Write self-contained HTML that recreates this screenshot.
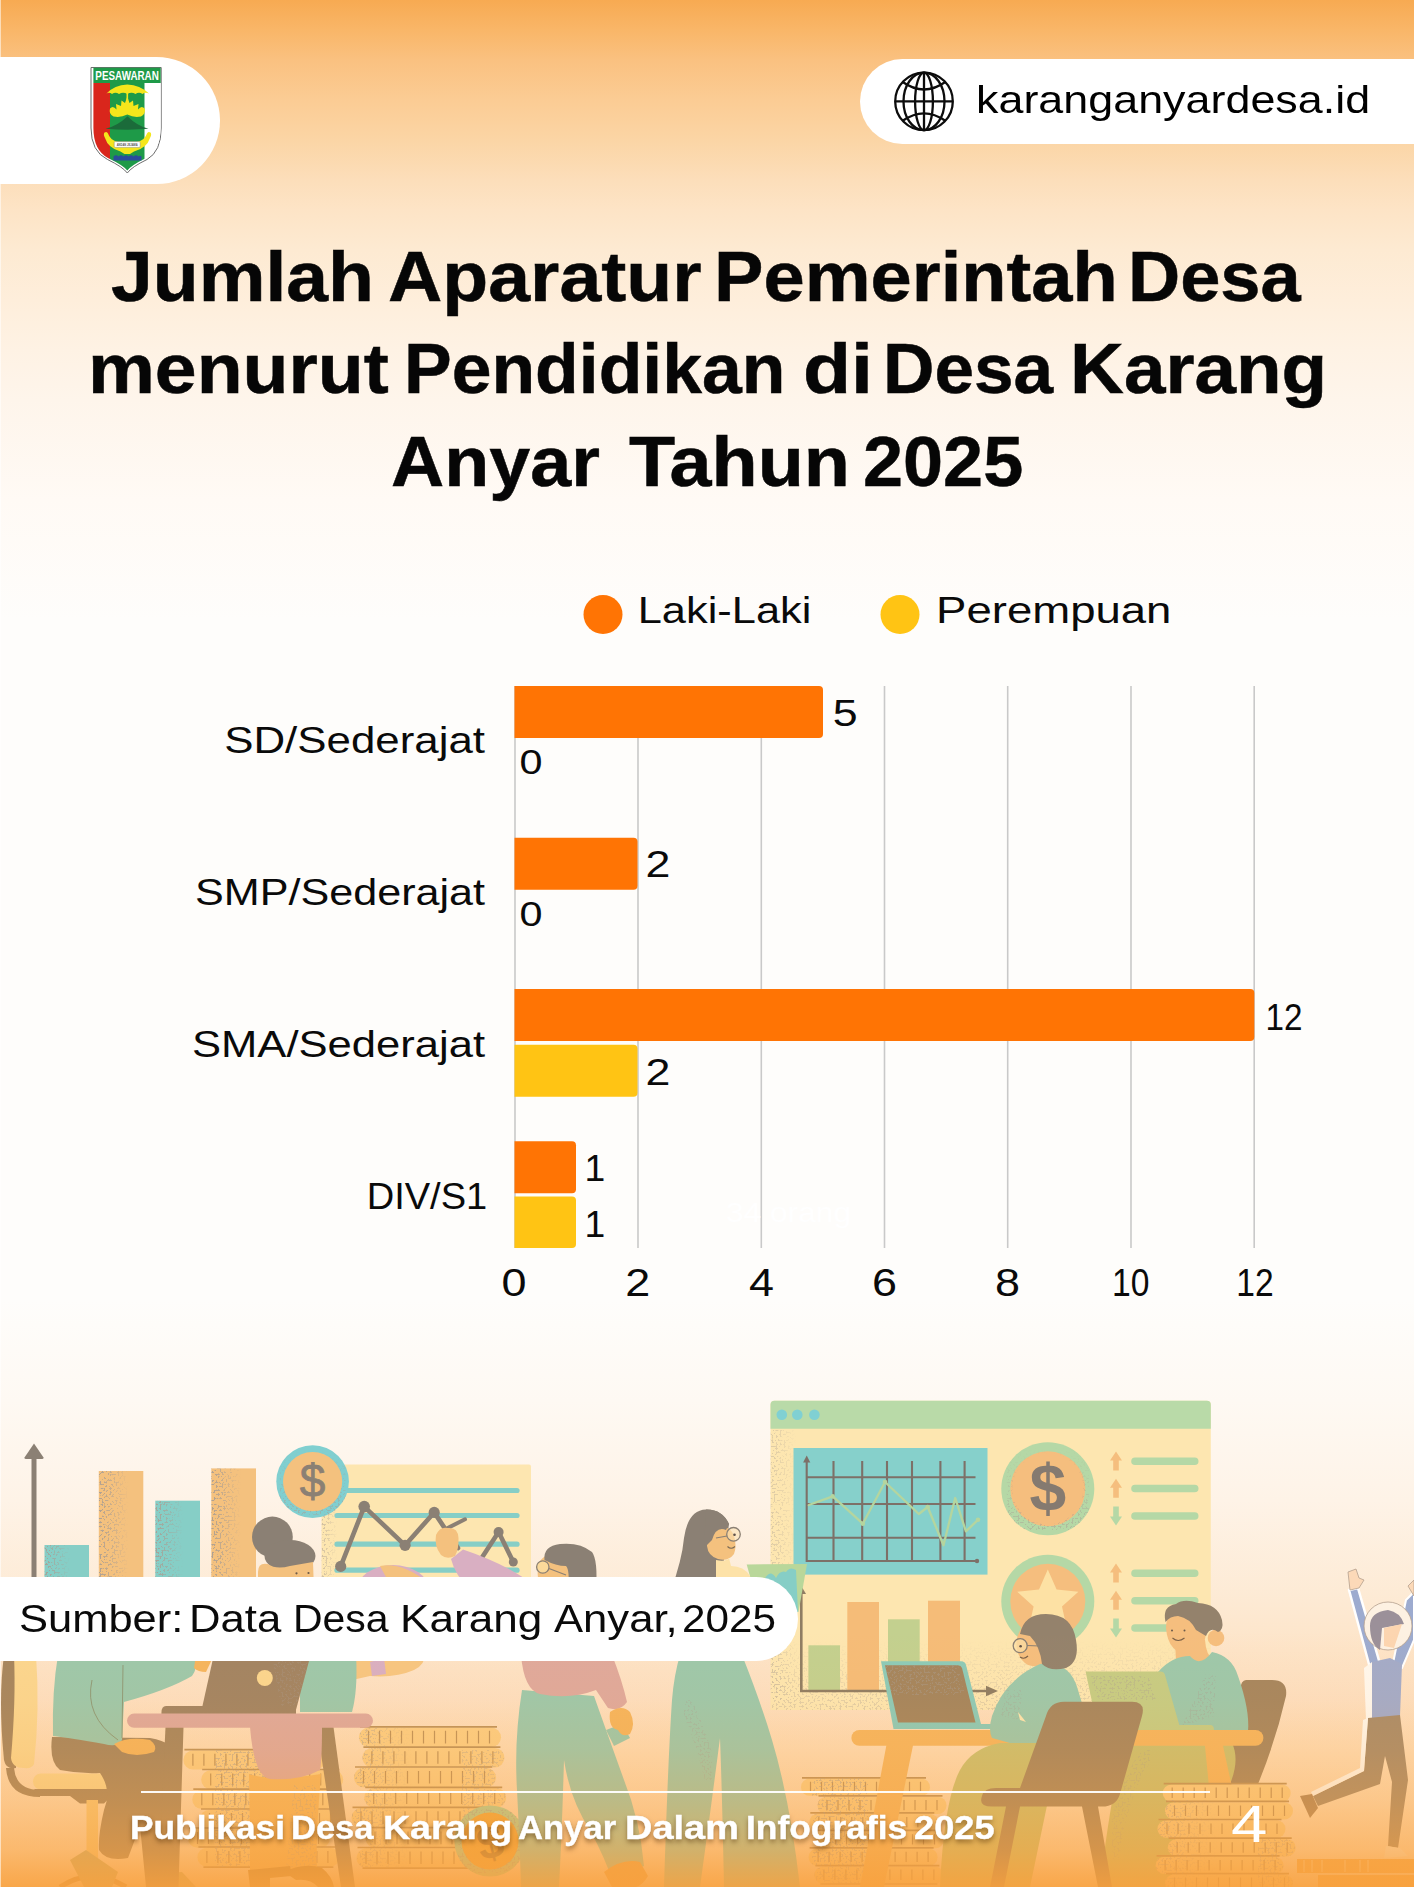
<!DOCTYPE html>
<html lang="id">
<head>
<meta charset="utf-8">
<title>Jumlah Aparatur Pemerintah Desa menurut Pendidikan di Desa Karang Anyar Tahun 2025</title>
<style>
html,body{margin:0;padding:0;}
body{width:1414px;height:1887px;position:relative;overflow:hidden;font-family:"Liberation Sans",sans-serif;color:#000;
background:linear-gradient(180deg,#f7aa52 0px,#f9b668 30px,#fac180 60px,#fbcc94 100px,#fbd5a5 140px,#fcdeba 180px,#fde4c6 210px,#fdead2 250px,#feeedb 300px,#fef2e4 350px,#fef5eb 400px,#fffaf5 500px,#fefdfb 620px,#fefdfb 1300px,#fef9f3 1400px,#fef3e7 1500px,#fdead4 1600px,#fde4c8 1650px,#fddfc0 1700px,#fedbb2 1750px,#fed9ae 1887px);}
.abs{position:absolute;}
.pill-l{left:-60px;top:56.5px;width:280.2px;height:127.3px;border-radius:63.7px;background:#fff;}
.pill-r{left:860px;top:59.2px;width:640px;height:84.8px;border-radius:42.4px;background:#fff;}
.txt{position:absolute;white-space:pre;transform-origin:0 0;line-height:1;}
.title{font-weight:700;font-size:70px;color:#060606;-webkit-text-stroke:.5px #060606;}
#page{position:absolute;left:0;top:0;width:1414px;height:1887px;}
</style>
</head>
<body>
<!-- ILLUSTRATION -->
<svg id="illu" class="abs" style="left:0;top:1380px" width="1414" height="507" viewBox="0 1380 1414 507">
<defs>
 <filter id="spk" x="0" y="0" width="100%" height="100%">
  <feTurbulence type="fractalNoise" baseFrequency="0.5" numOctaves="2" seed="7" result="n"/>
  <feColorMatrix in="n" type="matrix" values="0 0 0 0 0.40  0 0 0 0 0.34  0 0 0 0 0.29  0 0 0 -17 7.600" result="d"/>
  <feGaussianBlur in="d" stdDeviation="0.35" result="b"/>
  <feComposite in="b" in2="SourceAlpha" operator="in"/>
 </filter>
 <linearGradient id="fadeR" x1="0" y1="0" x2="1" y2="0"><stop offset="0" stop-color="#fff" stop-opacity="1"/><stop offset="0.45" stop-color="#fff" stop-opacity=".55"/><stop offset="1" stop-color="#fff" stop-opacity="0"/></linearGradient>
 <linearGradient id="fadeD" x1="0" y1="0" x2="0" y2="1"><stop offset="0" stop-color="#fff" stop-opacity="0"/><stop offset="1" stop-color="#fff" stop-opacity="1"/></linearGradient>
 <mask id="mR" maskContentUnits="objectBoundingBox"><rect width="1" height="1" fill="url(#fadeR)"/></mask>
 <mask id="mD" maskContentUnits="objectBoundingBox"><rect width="1" height="1" fill="url(#fadeD)"/></mask>
</defs>

<!-- ============ LEFT: bar chart + arrow ============ -->
<g id="leftbars">
 <rect x="31.500" y="1455" width="5" height="125" fill="#8b8074"/>
 <path d="M34 1443.500L43.500 1457.500Q43.800 1459 42 1459H26Q24.200 1459 24.500 1457.500Z" fill="#8b8074"/>
 <rect x="44.500" y="1545" width="44.500" height="40" fill="#86cec6"/>
 <rect x="98.800" y="1471" width="44.500" height="110" fill="#f4c17e"/>
 <rect x="155.300" y="1500.700" width="44.700" height="80" fill="#86cec6"/>
 <rect x="211.300" y="1468.400" width="44.700" height="112" fill="#f4c17e"/>
 <g opacity=".95">
  <rect x="44.500" y="1545" width="26" height="40" filter="url(#spk)" mask="url(#mR)"/>
  <rect x="98.800" y="1471" width="30" height="110" filter="url(#spk)" mask="url(#mR)"/>
  <rect x="155.300" y="1500.700" width="28" height="80" filter="url(#spk)" mask="url(#mR)"/>
  <rect x="211.300" y="1468.400" width="30" height="112" filter="url(#spk)" mask="url(#mR)"/>
 </g>
</g>

<!-- ============ line-chart board ============ -->
<g id="board">
 <rect x="321.500" y="1464.600" width="209.500" height="120" rx="2" fill="#fde6b0"/>
 <rect x="321.500" y="1500" width="16" height="80" filter="url(#spk)" mask="url(#mR)" opacity=".55"/>
 <g stroke="#86cec6" stroke-width="5.200" stroke-linecap="round">
  <path d="M340 1490.500H517"/><path d="M337 1515.500H517"/><path d="M337 1544.200H517"/><path d="M337 1570.200H517"/>
 </g>
 <!-- pie blob -->
 <ellipse cx="393" cy="1590" rx="36" ry="25" fill="#d9afc2"/>
 <path d="M380 1566 Q402 1562 427 1582 L393 1590Z" fill="#f4c17e"/>
 <g stroke="#8b8074" stroke-width="4.600" stroke-linecap="round" stroke-linejoin="round" fill="none">
  <path d="M340.700 1566.400L364.200 1506.600L405.100 1545.300L434.200 1512.400L458 1548"/>
  <path d="M482 1557.500L498.600 1532L513.300 1562"/>
  <path d="M447.700 1528L465 1519.300" stroke-width="4"/>
 </g>
 <g fill="#8b8074">
  <circle cx="340.700" cy="1566.400" r="5.600"/><circle cx="364.200" cy="1506.600" r="5.800"/><circle cx="405.100" cy="1545.300" r="5.600"/><circle cx="434.200" cy="1512.400" r="5.600"/><circle cx="498.600" cy="1532" r="5"/><circle cx="513.300" cy="1562" r="4.500"/>
 </g>
 <!-- arm + hand pointing -->
 <path d="M451 1559 L463 1549.500 Q500 1562 524 1578 L524 1590 L470 1590 Q455 1575 451 1559Z" fill="#d9afc2"/>
 <path d="M436 1535 Q440 1526 448 1528 Q458 1527 458.500 1538 Q459 1549 455 1556 Q447 1560 441 1555 Q434 1546 436 1535Z" fill="#f4c17e"/>
 <!-- dollar coin -->
 <circle cx="312.600" cy="1481.600" r="36.300" fill="#80cfd0"/>
 <circle cx="312.600" cy="1481.600" r="29.600" fill="#f4c17e"/>
 <circle cx="312.600" cy="1481.600" r="33" fill="none" stroke-width="7" stroke="#000" filter="url(#spk)" mask="url(#mD)" opacity=".55"/>
 <text x="312.600" y="1497" text-anchor="middle" font-family="'Liberation Sans',sans-serif" font-size="46" fill="#8b8074" stroke="#8b8074" stroke-width=".8">$</text>
</g>

<!-- girl with bun (behind pill) -->
<g id="bun">
 <circle cx="272.400" cy="1537" r="20.400" fill="#8b8074"/>
 <ellipse cx="290" cy="1556" rx="25.500" ry="16" fill="#8b8074"/>
 <path d="M258 1572 Q258 1562 268 1564 Q276 1570 290 1566 L313 1562 L314 1590 L258 1590Z" fill="#f4c17e"/>
 <circle cx="296.500" cy="1573.300" r="1.100" fill="#6b5a4a"/><circle cx="308.500" cy="1573" r="1.100" fill="#6b5a4a"/>
</g>

<!-- man with glasses (head above pill) -->
<g id="man2head">
 <path d="M538 1578 Q536 1560 546 1556 L580 1556 L592 1590 L538 1590Z" fill="#f4c17e"/>
 <path d="M544.500 1560 Q543 1546 560 1544 Q580 1542 592 1552 Q598 1560 596 1590 L568 1590 Q570 1570 566 1566 Q556 1566 544.500 1560Z" fill="#8b8074"/>
 <circle cx="542.800" cy="1567" r="6.200" fill="#fbd99a" stroke="#8b8074" stroke-width="1.300"/>
 <path d="M549 1568.500L566 1575" stroke="#8b8074" stroke-width="1.300"/>
</g>
<!-- ============ browser panel ============ -->
<g id="browser">
 <path d="M770.500 1404.700a4 4 0 0 1 4-4H1206.800a4 4 0 0 1 4 4V1710H770.500Z" fill="#fde6b0"/>
 <path d="M770.500 1404.700a4 4 0 0 1 4-4H1206.800a4 4 0 0 1 4 4V1428.800H770.500Z" fill="#b9daa8"/>
 <circle cx="781.800" cy="1414.700" r="5.300" fill="#80d0d3"/><circle cx="797.300" cy="1414.700" r="5.300" fill="#80d0d3"/><circle cx="814.400" cy="1414.700" r="5.300" fill="#80d0d3"/>
 <rect x="770.500" y="1430" width="26" height="270" filter="url(#spk)" mask="url(#mR)" opacity=".4"/>
 <rect x="772" y="1640" width="438" height="70" filter="url(#spk)" mask="url(#mD)" opacity=".35"/>
 <!-- teal chart -->
 <rect x="793.500" y="1448" width="194" height="126.600" fill="#86d0cb"/>
 <g stroke="#7d7068" stroke-width="2.100" fill="none">
  <path d="M806.700 1461V1561H975.500"/>
  <path d="M833.500 1461V1561M862.200 1461V1561M887 1461V1561M912 1461V1561M940.400 1461V1561M964.600 1461V1561"/>
  <path d="M806.700 1477.300H975.500M806.700 1504H975.500M806.700 1537.700H975.500"/>
 </g>
 <path d="M806.700 1455.500L810.300 1462.500H803.100Z" fill="#7d7068"/><circle cx="977" cy="1561" r="2.200" fill="#7d7068"/>
 <path d="M808.800 1505L832.700 1496.400L862.800 1523.700L885 1482L918.800 1514L927.700 1507L943.500 1545.300L955.200 1498L965.900 1531.300L978 1519.800" fill="none" stroke="#b5d59e" stroke-width="2.300" stroke-linejoin="round" stroke-linecap="round"/>
 <g fill="#b5d59e"><circle cx="832.700" cy="1496.400" r="2.300"/><circle cx="862.800" cy="1523.700" r="2.300"/><circle cx="885" cy="1482" r="2.300"/><circle cx="927.700" cy="1507" r="2.300"/><circle cx="978" cy="1519.800" r="2.300"/></g>
 <!-- coins -->
 <circle cx="1047.800" cy="1488.800" r="46.500" fill="#b5d8a6"/>
 <circle cx="1047.800" cy="1488.800" r="37.500" fill="#f5be7e"/>
 <circle cx="1047.800" cy="1488.800" r="41" fill="none" stroke="#000" stroke-width="11" filter="url(#spk)" mask="url(#mD)" opacity=".5"/>
 <text x="1047.800" y="1511" text-anchor="middle" font-family="'Liberation Sans',sans-serif" font-size="66" font-weight="700" fill="#857a70">$</text>
 <circle cx="1047.800" cy="1601.300" r="46.500" fill="#b5d8a6"/>
 <circle cx="1047.800" cy="1601.300" r="37.500" fill="#f5be7e"/>
 <path d="M1047.800 1569.500L1056.600 1589.600L1078.400 1591.800L1062 1606.400L1066.700 1627.800L1047.800 1616.700L1028.900 1627.800L1033.600 1606.400L1017.200 1591.800L1039 1589.600Z" fill="#fde1a4"/>
 <!-- arrows + bars -->
 <g fill="#f5be7e"><path d="M1116 1451.5L1122 1460.5H1118.8V1470.5H1113.2V1460.5H1110Z"/><path d="M1116 1478.7L1122 1487.7H1118.8V1497.7H1113.2V1487.7H1110Z"/><path d="M1116 1563.5L1122 1572.5H1118.8V1582.5H1113.2V1572.5H1110Z"/><path d="M1116 1590.8L1122 1599.8H1118.8V1609.8H1113.2V1599.8H1110Z"/></g>
 <g fill="#b5d8a6"><path d="M1116 1525.5L1122 1516.5H1118.8V1506.5H1113.2V1516.5H1110Z"/><path d="M1116 1637.5L1122 1628.5H1118.8V1618.5H1113.2V1628.5H1110Z"/></g>
 <g stroke="#b5d8a6" stroke-width="7.600" stroke-linecap="round">
  <path d="M1135 1461.300H1194.700M1135 1488.500H1194.700M1135 1516H1194.700M1135 1573.300H1194.700M1135 1600.800H1194.700M1135 1628H1194.700"/>
 </g>
 <!-- inner bar chart -->
 <rect x="808.400" y="1645.300" width="31.600" height="45" fill="#c3d08f"/>
 <rect x="847.300" y="1602" width="31.700" height="88.500" fill="#f5bc78"/>
 <rect x="888" y="1619.300" width="31.700" height="71" fill="#c3d08f"/>
 <rect x="928" y="1600.700" width="32" height="90" fill="#f5bc78"/>
 <path d="M801.300 1592V1691H990" fill="none" stroke="#8f7d63" stroke-width="2.600"/>
 <path d="M801.300 1586L806 1594H796.600Z" fill="#8f7d63"/>
 <path d="M998 1691L986 1685.800V1696.200Z" fill="#8f7d63"/>
</g>

<!-- ============ woman standing with paper ============ -->
<g id="woman">
 <!-- paper -->
 <path d="M746.700 1564.500L807 1564L798.500 1612L760 1612Z" fill="#b9d79a"/>
 <path d="M764 1580 Q770 1568 776 1578 Q780 1570 786 1572 Q790 1566 796 1570 L798 1612H766Z" fill="#86cec6"/>
 <!-- hair -->
 <path d="M671 1590 Q682 1560 684 1538 Q688 1510 706 1509.500 Q722 1509 729 1524 L724 1560 L718 1590Z" fill="#8b8074"/>
 <!-- face -->
 <path d="M716 1528 Q730 1524 734 1536 Q737 1546 734 1554 Q728 1562 718 1559 Q708 1556 707 1546 Q706 1538 716 1528Z" fill="#f4c17e"/>
 <path d="M706 1509.500 Q722 1509 729 1524 L726 1530 Q716 1526 712 1540 L704 1548Z" fill="#8b8074"/>
 <circle cx="733.500" cy="1534.300" r="6.800" fill="#fbe3b4" fill-opacity=".6" stroke="#8b8074" stroke-width="1.300"/>
 <circle cx="734.500" cy="1534.800" r="1.300" fill="#5e5048"/>
 <path d="M727 1536L716 1538" stroke="#8b8074" stroke-width="1.200"/>
 <path d="M727.500 1546.500Q731 1550 735 1546.500" stroke="#7a6a55" stroke-width="1.100" fill="none"/>
 <!-- collar/top -->
 <path d="M716 1560 Q726 1562 729 1558 L731 1566 Q744 1566 750 1576 L752 1592 L716 1592Z" fill="#fde2a8"/>
 <!-- skirt -->
 <path d="M680 1655 L742 1655 Q760 1700 772 1740 Q790 1800 800 1887 L724 1887 Q722 1790 720 1738 Q712 1800 700 1887 L664 1887 Q668 1760 672 1700 Q674 1675 680 1655Z" fill="#9dc8ab"/>
 <path d="M684 1700 Q700 1730 712 1780" stroke="#000" stroke-width="14" fill="none" filter="url(#spk)" opacity=".28"/>
</g>
<!-- ============ coin stacks (left) ============ -->
<g id="coinsL">
<clipPath id="ckL"><rect x="183.4" y="1750.5" width="142.0" height="19.0" rx="9.5"/><rect x="201.2" y="1770.3" width="142.0" height="19.0" rx="9.5"/><rect x="192.3" y="1790.0" width="142.0" height="19.0" rx="9.5"/><rect x="200.0" y="1809.8" width="142.0" height="19.0" rx="9.5"/><rect x="188.0" y="1828.8" width="142.0" height="19.0" rx="9.5"/><rect x="197.4" y="1847.8" width="142.0" height="19.0" rx="9.5"/></clipPath><rect x="183.4" y="1750.5" width="142.0" height="19.0" rx="9.5" fill="#fcce84"/><path d="M184.4 1749.7H321.4" stroke="#bf935a" stroke-width="1.7"/><path d="M192.9 1753.7V1765.8M203.9 1753.7V1765.8M214.9 1753.7V1765.8M225.9 1753.7V1765.8M236.9 1753.7V1765.8M247.9 1753.7V1765.8M258.9 1753.7V1765.8M269.9 1753.7V1765.8M280.9 1753.7V1765.8M291.9 1753.7V1765.8M302.9 1753.7V1765.8M313.9 1753.7V1765.8" stroke="#bf935a" stroke-width="1.2"/><rect x="201.2" y="1770.3" width="142.0" height="19.0" rx="9.5" fill="#fcce84"/><path d="M202.2 1769.5H339.2" stroke="#bf935a" stroke-width="1.7"/><path d="M210.7 1773.5V1785.6M221.7 1773.5V1785.6M232.7 1773.5V1785.6M243.7 1773.5V1785.6M254.7 1773.5V1785.6M265.7 1773.5V1785.6M276.7 1773.5V1785.6M287.7 1773.5V1785.6M298.7 1773.5V1785.6M309.7 1773.5V1785.6M320.7 1773.5V1785.6M331.7 1773.5V1785.6" stroke="#bf935a" stroke-width="1.2"/><rect x="192.3" y="1790.0" width="142.0" height="19.0" rx="9.5" fill="#fcce84"/><path d="M193.3 1789.2H330.3" stroke="#bf935a" stroke-width="1.7"/><path d="M201.8 1793.2V1805.3M212.8 1793.2V1805.3M223.8 1793.2V1805.3M234.8 1793.2V1805.3M245.8 1793.2V1805.3M256.8 1793.2V1805.3M267.8 1793.2V1805.3M278.8 1793.2V1805.3M289.8 1793.2V1805.3M300.8 1793.2V1805.3M311.8 1793.2V1805.3M322.8 1793.2V1805.3" stroke="#bf935a" stroke-width="1.2"/><rect x="200.0" y="1809.8" width="142.0" height="19.0" rx="9.5" fill="#fcce84"/><path d="M201.0 1809.0H338.0" stroke="#bf935a" stroke-width="1.7"/><path d="M209.5 1813.0V1825.1M220.5 1813.0V1825.1M231.5 1813.0V1825.1M242.5 1813.0V1825.1M253.5 1813.0V1825.1M264.5 1813.0V1825.1M275.5 1813.0V1825.1M286.5 1813.0V1825.1M297.5 1813.0V1825.1M308.5 1813.0V1825.1M319.5 1813.0V1825.1M330.5 1813.0V1825.1" stroke="#bf935a" stroke-width="1.2"/><rect x="188.0" y="1828.8" width="142.0" height="19.0" rx="9.5" fill="#fcce84"/><path d="M189.0 1828.0H326.0" stroke="#bf935a" stroke-width="1.7"/><path d="M197.5 1832.0V1844.1M208.5 1832.0V1844.1M219.5 1832.0V1844.1M230.5 1832.0V1844.1M241.5 1832.0V1844.1M252.5 1832.0V1844.1M263.5 1832.0V1844.1M274.5 1832.0V1844.1M285.5 1832.0V1844.1M296.5 1832.0V1844.1M307.5 1832.0V1844.1M318.5 1832.0V1844.1" stroke="#bf935a" stroke-width="1.2"/><rect x="197.4" y="1847.8" width="142.0" height="19.0" rx="9.5" fill="#fcce84"/><path d="M198.4 1847.0H335.4" stroke="#bf935a" stroke-width="1.7"/><path d="M206.9 1851.0V1863.1M217.9 1851.0V1863.1M228.9 1851.0V1863.1M239.9 1851.0V1863.1M250.9 1851.0V1863.1M261.9 1851.0V1863.1M272.9 1851.0V1863.1M283.9 1851.0V1863.1M294.9 1851.0V1863.1M305.9 1851.0V1863.1M316.9 1851.0V1863.1M327.9 1851.0V1863.1" stroke="#bf935a" stroke-width="1.2"/><path d="M203.4 1867.2H333.4" stroke="#bf935a" stroke-width="1.7"/><g clip-path="url(#ckL)"><rect x="215" y="1750" width="75" height="118" filter="url(#spk)" opacity=".5"/></g>
</g>
<g id="coinsM">
<clipPath id="ckM"><rect x="359.0" y="1727.6" width="142.0" height="19.5" rx="9.8"/><rect x="362.4" y="1748.0" width="142.0" height="19.5" rx="9.8"/><rect x="354.0" y="1767.8" width="142.0" height="19.5" rx="9.8"/><rect x="364.2" y="1788.1" width="142.0" height="19.5" rx="9.8"/><rect x="351.5" y="1808.1" width="142.0" height="19.5" rx="9.8"/><rect x="365.5" y="1828.4" width="142.0" height="19.5" rx="9.8"/><rect x="356.5" y="1848.3" width="142.0" height="19.5" rx="9.8"/></clipPath><rect x="359.0" y="1727.6" width="142.0" height="19.5" rx="9.8" fill="#fcce84"/><path d="M360.0 1726.8H497.0" stroke="#bf935a" stroke-width="1.7"/><path d="M368.5 1730.8V1743.4M379.5 1730.8V1743.4M390.5 1730.8V1743.4M401.5 1730.8V1743.4M412.5 1730.8V1743.4M423.5 1730.8V1743.4M434.5 1730.8V1743.4M445.5 1730.8V1743.4M456.5 1730.8V1743.4M467.5 1730.8V1743.4M478.5 1730.8V1743.4M489.5 1730.8V1743.4" stroke="#bf935a" stroke-width="1.2"/><rect x="362.4" y="1748.0" width="142.0" height="19.5" rx="9.8" fill="#fcce84"/><path d="M363.4 1747.2H500.4" stroke="#bf935a" stroke-width="1.7"/><path d="M371.9 1751.2V1763.8M382.9 1751.2V1763.8M393.9 1751.2V1763.8M404.9 1751.2V1763.8M415.9 1751.2V1763.8M426.9 1751.2V1763.8M437.9 1751.2V1763.8M448.9 1751.2V1763.8M459.9 1751.2V1763.8M470.9 1751.2V1763.8M481.9 1751.2V1763.8M492.9 1751.2V1763.8" stroke="#bf935a" stroke-width="1.2"/><rect x="354.0" y="1767.8" width="142.0" height="19.5" rx="9.8" fill="#fcce84"/><path d="M355.0 1767.0H492.0" stroke="#bf935a" stroke-width="1.7"/><path d="M363.5 1771.0V1783.6M374.5 1771.0V1783.6M385.5 1771.0V1783.6M396.5 1771.0V1783.6M407.5 1771.0V1783.6M418.5 1771.0V1783.6M429.5 1771.0V1783.6M440.5 1771.0V1783.6M451.5 1771.0V1783.6M462.5 1771.0V1783.6M473.5 1771.0V1783.6M484.5 1771.0V1783.6" stroke="#bf935a" stroke-width="1.2"/><rect x="364.2" y="1788.1" width="142.0" height="19.5" rx="9.8" fill="#fcce84"/><path d="M365.2 1787.3H502.2" stroke="#bf935a" stroke-width="1.7"/><path d="M373.7 1791.3V1803.9M384.7 1791.3V1803.9M395.7 1791.3V1803.9M406.7 1791.3V1803.9M417.7 1791.3V1803.9M428.7 1791.3V1803.9M439.7 1791.3V1803.9M450.7 1791.3V1803.9M461.7 1791.3V1803.9M472.7 1791.3V1803.9M483.7 1791.3V1803.9M494.7 1791.3V1803.9" stroke="#bf935a" stroke-width="1.2"/><rect x="351.5" y="1808.1" width="142.0" height="19.5" rx="9.8" fill="#fcce84"/><path d="M352.5 1807.3H489.5" stroke="#bf935a" stroke-width="1.7"/><path d="M361.0 1811.3V1823.9M372.0 1811.3V1823.9M383.0 1811.3V1823.9M394.0 1811.3V1823.9M405.0 1811.3V1823.9M416.0 1811.3V1823.9M427.0 1811.3V1823.9M438.0 1811.3V1823.9M449.0 1811.3V1823.9M460.0 1811.3V1823.9M471.0 1811.3V1823.9M482.0 1811.3V1823.9" stroke="#bf935a" stroke-width="1.2"/><rect x="365.5" y="1828.4" width="142.0" height="19.5" rx="9.8" fill="#fcce84"/><path d="M366.5 1827.6H503.5" stroke="#bf935a" stroke-width="1.7"/><path d="M375.0 1831.6V1844.2M386.0 1831.6V1844.2M397.0 1831.6V1844.2M408.0 1831.6V1844.2M419.0 1831.6V1844.2M430.0 1831.6V1844.2M441.0 1831.6V1844.2M452.0 1831.6V1844.2M463.0 1831.6V1844.2M474.0 1831.6V1844.2M485.0 1831.6V1844.2M496.0 1831.6V1844.2" stroke="#bf935a" stroke-width="1.2"/><rect x="356.5" y="1848.3" width="142.0" height="19.5" rx="9.8" fill="#fcce84"/><path d="M357.5 1847.5H494.5" stroke="#bf935a" stroke-width="1.7"/><path d="M366.0 1851.5V1864.1M377.0 1851.5V1864.1M388.0 1851.5V1864.1M399.0 1851.5V1864.1M410.0 1851.5V1864.1M421.0 1851.5V1864.1M432.0 1851.5V1864.1M443.0 1851.5V1864.1M454.0 1851.5V1864.1M465.0 1851.5V1864.1M476.0 1851.5V1864.1M487.0 1851.5V1864.1" stroke="#bf935a" stroke-width="1.2"/><path d="M362.5 1868.2H492.5" stroke="#bf935a" stroke-width="1.7"/><g clip-path="url(#ckM)"><rect x="350" y="1727" width="62" height="142" filter="url(#spk)" opacity=".55" mask="url(#mR)"/><rect x="462" y="1750" width="46" height="80" filter="url(#spk)" opacity=".35"/></g>
</g>
<!-- big coin -->
<g id="bigcoin">
 <circle cx="490" cy="1841" r="35.600" fill="#b0cf98"/>
 <circle cx="490" cy="1841" r="28.500" fill="#f2a83e"/>
 <circle cx="490" cy="1841" r="32" fill="none" stroke="#000" stroke-width="8" filter="url(#spk)" opacity=".45"/>
 <text x="0" y="0" transform="translate(494 1858) rotate(-14)" text-anchor="middle" font-family="'Liberation Sans',sans-serif" font-weight="700" font-size="46" fill="#b07a34">$</text>
</g>

<!-- ============ office chair (far left) ============ -->
<g id="chairL">
 <path d="M4 1655 Q-2 1700 4 1760 Q6 1770 16 1768 L18 1655Z" fill="#a6865f"/>
 <path d="M14 1655 L36 1655 Q40 1710 34 1764 Q32 1769 24 1768 Q12 1768 11 1758 Q16 1700 14 1655Z" fill="#fbd68f"/>
 <path d="M14 1768 Q16 1790 40 1790 L40 1797 Q8 1797 6 1768Z" fill="#a6865f"/>
 <rect x="33" y="1773.500" width="90" height="16" rx="8" fill="#fbd68f"/>
 <path d="M34 1789H118L104 1803.500H80L70 1796H40Z" fill="#a6865f"/>
 <rect x="86.500" y="1800" width="11.500" height="87" fill="#f9c877"/>
 <path d="M60 1887 Q92 1866 126 1887" stroke="#c9904a" stroke-width="5" fill="none"/>
</g>

<!-- ============ sitting person (green sweater, brown pants) ============ -->
<g id="sitL">
 <!-- shoes -->
 <path d="M70 1860 L86 1850 L118 1872 L112 1887 L84 1887Z" fill="#c9b070"/>
 <path d="M148 1887 L152 1874 L182 1872 L196 1887Z" fill="#c9b070"/>
 <!-- pants -->
 <path d="M52 1737 Q49 1762 60 1770 Q80 1774 100 1773 Q112 1790 104 1810 Q98 1835 99 1850 Q106 1862 128 1858 L140 1826 L146 1887 L178 1887 L178 1760 Q176 1742 150 1738Z" fill="#a6865f"/>
 <!-- torso -->
 <path d="M58 1655 L196 1655 Q198 1668 192 1676 Q168 1690 124 1702 L122 1740 Q118 1748 104 1744 Q70 1738 53 1736 Q52 1690 58 1655Z" fill="#9dc8ab"/>
 <path d="M123 1665 L122 1738 M92 1680 Q84 1716 118 1740" stroke="#8e9a78" stroke-width="1" fill="none"/>
 <!-- hand -->
 <path d="M114 1744 Q128 1736 150 1740 Q158 1746 154 1752 Q136 1758 122 1752Z" fill="#f5b55e"/>
</g>

<!-- ============ desk + laptop ============ -->
<g id="deskL">
 <!-- bun girl's arm reaching right -->
 <path d="M352 1655 H424 Q426 1664 414 1670 Q396 1678 370 1676 L352 1680Z" fill="#f7c681"/>
 <path d="M370 1662 L384 1658 L386 1674 L372 1676Z" fill="#d9afc2"/>
 <!-- bun girl's sweater visible right of laptop -->
 <path d="M300 1655 L356 1655 Q358 1690 352 1712 L300 1712Z" fill="#9dc8ab"/>
 <!-- hands on top (arm of bun girl/orange) -->
 <path d="M196 1655 L214 1655 L206 1672 Q198 1672 194 1668Z" fill="#f5b55e"/>
 <!-- laptop -->
 <path d="M213.800 1655 L310.600 1655 L295.300 1712.500 L201 1712.500Z" fill="#a28463"/>
 <path d="M272 1655 L310.600 1655 L295.300 1712.500 L282 1712.500Z" fill="#000" filter="url(#spk)" opacity=".25"/>
 <circle cx="264.800" cy="1678" r="8" fill="#fbd68f"/>
 <path d="M166 1706 H296 V1714 H161.500 Q161 1706 166 1706Z" fill="#a28463"/>
 <!-- legs -->
 <path d="M165.500 1727 H183.500 L178.500 1887 H158Z" fill="#a6865f"/>
 <path d="M317 1727 H333.500 L355 1887 H341Z" fill="#a6865f"/>
 <!-- top -->
 <rect x="127" y="1713.600" width="246" height="14.200" rx="7.100" fill="#dfa99c"/>
</g>

<!-- ============ standing person pink top / orange pants ============ -->
<g id="pinkL">
 <path d="M249 1774 Q270 1782 321 1774 L319 1800 Q316 1840 317 1868 L284 1872 Q290 1830 293 1796 Q290 1830 289 1868 L250 1872 Q250 1820 249 1774Z" fill="#f7b75f"/>
 <path d="M294 1785 L316 1785 L317 1866 L286 1870Z" fill="#000" filter="url(#spk)" opacity=".3"/>
 <path d="M248 1870 L290 1866 L292 1876 L270 1878 L270 1887 L250 1887Z M284 1872 Q304 1862 322 1868 Q332 1876 334 1887 L318 1887 Q310 1878 296 1880Z" fill="#c48a40"/>
 <path d="M250 1727 L322 1727 Q322 1760 320 1770 Q300 1781 270 1779 Q254 1777 250 1727Z" fill="#dfa99c"/>
</g>

<!-- ============ man with pink sweater / green pants (middle) ============ -->
<g id="man2">
 <!-- far leg + near leg -->
 <path d="M522 1690 Q514 1740 517 1790 Q520 1850 521 1887 L559 1887 Q562 1830 564 1760 Q570 1800 590 1830 Q606 1860 612 1880 L644 1866 Q640 1820 624 1780 Q606 1730 594 1696Z" fill="#9dc8ab"/>
 <path d="M604 1872 Q622 1858 640 1862 L648 1876 Q640 1890 628 1887 L612 1887Z" fill="#f0a850"/>
 <!-- sweater -->
 <path d="M521 1655 L612 1655 Q622 1680 627 1702 Q620 1712 608 1708 L596 1690 Q570 1700 540 1694 Q524 1690 521 1655Z" fill="#dfa99c"/>
 <!-- hand + bill -->
 <path d="M606 1730 L622 1724 L630 1738 L614 1746Z" fill="#9dc8ab"/>
 <path d="M610 1712 Q622 1704 630 1712 Q636 1724 630 1734 Q622 1738 618 1730 Q608 1728 610 1712Z" fill="#f5b55e"/>
</g>
<!-- ============ coin stacks (center / right) ============ -->
<g id="coinsC">
<clipPath id="ckC"><rect x="801.0" y="1778.6" width="129.0" height="17.2" rx="8.6"/><rect x="817.5" y="1796.7" width="129.0" height="17.2" rx="8.6"/><rect x="809.3" y="1813.7" width="129.0" height="17.2" rx="8.6"/><rect x="815.0" y="1831.1" width="129.0" height="17.2" rx="8.6"/><rect x="808.6" y="1848.6" width="129.0" height="17.2" rx="8.6"/><rect x="814.4" y="1866.4" width="129.0" height="17.2" rx="8.6"/></clipPath><rect x="801.0" y="1778.6" width="129.0" height="17.2" rx="8.6" fill="#fcce84"/><path d="M802.0 1777.8H926.0" stroke="#bf935a" stroke-width="1.7"/><path d="M810.5 1781.8V1792.1M821.5 1781.8V1792.1M832.5 1781.8V1792.1M843.5 1781.8V1792.1M854.5 1781.8V1792.1M865.5 1781.8V1792.1M876.5 1781.8V1792.1M887.5 1781.8V1792.1M898.5 1781.8V1792.1M909.5 1781.8V1792.1M920.5 1781.8V1792.1" stroke="#bf935a" stroke-width="1.2"/><rect x="817.5" y="1796.7" width="129.0" height="17.2" rx="8.6" fill="#fcce84"/><path d="M818.5 1795.9H942.5" stroke="#bf935a" stroke-width="1.7"/><path d="M827.0 1799.9V1810.2M838.0 1799.9V1810.2M849.0 1799.9V1810.2M860.0 1799.9V1810.2M871.0 1799.9V1810.2M882.0 1799.9V1810.2M893.0 1799.9V1810.2M904.0 1799.9V1810.2M915.0 1799.9V1810.2M926.0 1799.9V1810.2M937.0 1799.9V1810.2" stroke="#bf935a" stroke-width="1.2"/><rect x="809.3" y="1813.7" width="129.0" height="17.2" rx="8.6" fill="#fcce84"/><path d="M810.3 1812.9H934.3" stroke="#bf935a" stroke-width="1.7"/><path d="M818.8 1816.9V1827.2M829.8 1816.9V1827.2M840.8 1816.9V1827.2M851.8 1816.9V1827.2M862.8 1816.9V1827.2M873.8 1816.9V1827.2M884.8 1816.9V1827.2M895.8 1816.9V1827.2M906.8 1816.9V1827.2M917.8 1816.9V1827.2M928.8 1816.9V1827.2" stroke="#bf935a" stroke-width="1.2"/><rect x="815.0" y="1831.1" width="129.0" height="17.2" rx="8.6" fill="#fcce84"/><path d="M816.0 1830.3H940.0" stroke="#bf935a" stroke-width="1.7"/><path d="M824.5 1834.3V1844.6M835.5 1834.3V1844.6M846.5 1834.3V1844.6M857.5 1834.3V1844.6M868.5 1834.3V1844.6M879.5 1834.3V1844.6M890.5 1834.3V1844.6M901.5 1834.3V1844.6M912.5 1834.3V1844.6M923.5 1834.3V1844.6M934.5 1834.3V1844.6" stroke="#bf935a" stroke-width="1.2"/><rect x="808.6" y="1848.6" width="129.0" height="17.2" rx="8.6" fill="#fcce84"/><path d="M809.6 1847.8H933.6" stroke="#bf935a" stroke-width="1.7"/><path d="M818.1 1851.8V1862.1M829.1 1851.8V1862.1M840.1 1851.8V1862.1M851.1 1851.8V1862.1M862.1 1851.8V1862.1M873.1 1851.8V1862.1M884.1 1851.8V1862.1M895.1 1851.8V1862.1M906.1 1851.8V1862.1M917.1 1851.8V1862.1M928.1 1851.8V1862.1" stroke="#bf935a" stroke-width="1.2"/><rect x="814.4" y="1866.4" width="129.0" height="17.2" rx="8.6" fill="#fcce84"/><path d="M815.4 1865.6H939.4" stroke="#bf935a" stroke-width="1.7"/><path d="M823.9 1869.6V1879.9M834.9 1869.6V1879.9M845.9 1869.6V1879.9M856.9 1869.6V1879.9M867.9 1869.6V1879.9M878.9 1869.6V1879.9M889.9 1869.6V1879.9M900.9 1869.6V1879.9M911.9 1869.6V1879.9M922.9 1869.6V1879.9M933.9 1869.6V1879.9" stroke="#bf935a" stroke-width="1.2"/><path d="M820.4 1884.0H937.4" stroke="#bf935a" stroke-width="1.7"/><g clip-path="url(#ckC)"><rect x="812" y="1778" width="56" height="106" filter="url(#spk)" opacity=".5"/></g>
</g>
<!-- flat bricks bottom right -->
<g id="bricks" fill="#f7ad52">
 <rect x="1297" y="1859" width="117" height="14"/>
 <rect x="1318" y="1875" width="96" height="12"/>
 <path d="M1304 1860V1872M1312 1860V1872M1322 1860V1872M1345 1860V1872M1360 1860V1872M1368 1860V1872" stroke="#fbc27a" stroke-width="2"/>
</g>

<!-- ============ back chair (right) ============ -->
<path d="M1246 1680 H1272 Q1288 1680 1286 1696 Q1276 1740 1258 1784 L1222 1784 Q1234 1730 1240 1690 Q1241 1680 1246 1680Z" fill="#a6865f"/>

<!-- ============ right man (teal sweater) ============ -->
<g id="manR">
 <!-- pants -->
 <path d="M1124 1743 H1232 Q1240 1760 1230 1784 L1200 1790 Q1180 1820 1170 1887 L1100 1887 Q1110 1800 1124 1743Z" fill="#cbc070"/>
 <path d="M1150 1750 Q1120 1790 1112 1860" stroke="#000" stroke-width="14" fill="none" filter="url(#spk)" opacity=".25"/>
 <!-- neck + face -->
 <path d="M1175 1640 L1205 1640 Q1206 1656 1214 1660 L1196 1670 L1176 1662Z" fill="#f5be7e"/>
 <path d="M1166 1628 Q1166 1610 1184 1610 Q1204 1610 1206 1630 Q1206 1650 1190 1654 Q1168 1654 1166 1628Z" fill="#f5be7e"/>
 <circle cx="1216" cy="1638" r="8.300" fill="#f5be7e"/>
 <path d="M1165.500 1622 Q1162 1606 1176 1604 Q1184 1598 1198 1603 Q1218 1604 1222 1620 Q1224 1630 1218 1632 Q1210 1626 1206 1636 L1196 1630 Q1190 1618 1178 1616 Q1170 1616 1165.500 1622Z" fill="#94826c"/>
 <circle cx="1172" cy="1630.500" r="1" fill="#6b5a4a"/><circle cx="1184.500" cy="1630.500" r="1" fill="#6b5a4a"/>
 <path d="M1172.500 1638Q1178 1643 1184.500 1638" stroke="#7a6048" stroke-width="1.100" fill="none"/>
 <!-- sweater -->
 <path d="M1158 1672 Q1172 1656 1190 1656 Q1200 1668 1212 1652 Q1232 1656 1238 1676 Q1250 1710 1248 1732 L1180 1732 L1164 1690Z" fill="#9dc8ab"/>
 <path d="M1206 1674 L1216 1676 L1214 1716 L1182 1726Z" fill="#000" filter="url(#spk)" opacity=".3"/>
</g>

<!-- second laptop (olive) -->
<path d="M1085.600 1671.600 H1160 Q1164 1671.600 1165 1675 L1179.300 1725 H1210 Q1214 1725 1214 1730 H1098 Z" fill="#c6cc84"/>
<path d="M1090 1676 H1150 L1156 1700 H1098Z" fill="#000" filter="url(#spk)" opacity=".3"/>

<!-- ============ table ============ -->
<g id="tableR" fill="#f6b660">
 <path d="M886.600 1744 H913.300 L884 1887 H860Z"/>
 <path d="M1204.800 1744 H1222.600 L1232 1787 H1209Z"/>
 <rect x="851.400" y="1730" width="412" height="15.800" rx="7.900"/>
</g>

<!-- first laptop (teal edge, brown back) -->
<g id="lapR">
 <path d="M881 1661.300 H961 Q965 1661.300 966 1665 L981 1724 H992 V1729 H893.500 Z" fill="#8ccab8"/>
 <path d="M885 1665.300 H958 Q961 1665.300 962 1668 L975.500 1722.500 H898Z" fill="#a4855e"/>
 <path d="M885 1665.300 H958 L965 1695 H892Z" fill="#fde6b0" filter="url(#spk)" opacity=".4"/>
</g>

<!-- ============ woman seated (glasses), back to viewer ============ -->
<g id="womR">
 <!-- pants -->
 <path d="M1000 1743 H1060 L1030 1887 H940 Q944 1800 960 1770 Q972 1748 1000 1743Z" fill="#cbc070"/>
 <!-- face -->
 <path d="M1022 1626 Q1040 1620 1046 1640 L1044 1664 Q1030 1670 1022 1660 Q1014 1650 1017.500 1636Z" fill="#f5be7e"/>
 <!-- sweater -->
 <path d="M1040 1664 Q1070 1660 1078 1690 Q1088 1720 1088 1743 L1010 1743 L992 1738 Q988 1730 992 1716 Q1004 1680 1040 1664Z" fill="#9dc8ab"/>
 <path d="M1006 1690 L1022 1690 L1020 1720 L1000 1716Z" fill="#000" filter="url(#spk)" opacity=".25"/>
 <path d="M1018 1712 L1026 1722 L1020 1720Z" fill="#fde6b0"/>
 <!-- hair -->
 <path d="M1020 1634 Q1024 1614 1046 1614 Q1072 1614 1076 1640 Q1080 1662 1066 1668 Q1050 1672 1042 1664 Q1040 1646 1030 1636Z" fill="#94826c"/>
 <circle cx="1020.200" cy="1645.700" r="7" fill="#fbe0a8" fill-opacity=".7" stroke="#8b8074" stroke-width="1.300"/>
 <circle cx="1020.600" cy="1646.300" r="1.300" fill="#5e5048"/>
 <path d="M1027 1645.500L1040 1646" stroke="#8b8074" stroke-width="1.200"/>
 <path d="M1020 1657Q1024 1660 1028 1656" stroke="#7a6048" stroke-width="1.100" fill="none"/>
</g>

<!-- ============ front chair ============ -->
<path d="M1064 1701.700 H1132 Q1146 1701.700 1142 1716 L1120 1794 Q1116 1806.600 1102 1806.600 L1098 1806.600 L1112 1887 L1098 1887 L1082 1806.600 H1020 L1004 1887 H990 L1006 1806.600 H992 Q978 1806.600 982 1796 Q984 1788 996 1788 H1020 L1046 1716 Q1050 1701.700 1064 1701.700Z" fill="#a6865f"/>

<g id="coinsR">
<clipPath id="ckR"><rect x="1162.7" y="1784.4" width="128.0" height="17.4" rx="8.7"/><rect x="1165.0" y="1802.2" width="128.0" height="17.4" rx="8.7"/><rect x="1157.5" y="1820.3" width="128.0" height="17.4" rx="8.7"/><rect x="1167.7" y="1839.0" width="128.0" height="17.4" rx="8.7"/><rect x="1155.6" y="1856.7" width="128.0" height="17.4" rx="8.7"/><rect x="1165.0" y="1874.4" width="128.0" height="17.4" rx="8.7"/></clipPath><rect x="1162.7" y="1784.4" width="128.0" height="17.4" rx="8.7" fill="#fcce84"/><path d="M1163.7 1783.6H1286.7" stroke="#bf935a" stroke-width="1.7"/><path d="M1172.2 1787.6V1798.1M1183.2 1787.6V1798.1M1194.2 1787.6V1798.1M1205.2 1787.6V1798.1M1216.2 1787.6V1798.1M1227.2 1787.6V1798.1M1238.2 1787.6V1798.1M1249.2 1787.6V1798.1M1260.2 1787.6V1798.1M1271.2 1787.6V1798.1M1282.2 1787.6V1798.1" stroke="#bf935a" stroke-width="1.2"/><rect x="1165.0" y="1802.2" width="128.0" height="17.4" rx="8.7" fill="#fcce84"/><path d="M1166.0 1801.4H1289.0" stroke="#bf935a" stroke-width="1.7"/><path d="M1174.5 1805.4V1815.9M1185.5 1805.4V1815.9M1196.5 1805.4V1815.9M1207.5 1805.4V1815.9M1218.5 1805.4V1815.9M1229.5 1805.4V1815.9M1240.5 1805.4V1815.9M1251.5 1805.4V1815.9M1262.5 1805.4V1815.9M1273.5 1805.4V1815.9M1284.5 1805.4V1815.9" stroke="#bf935a" stroke-width="1.2"/><rect x="1157.5" y="1820.3" width="128.0" height="17.4" rx="8.7" fill="#fcce84"/><path d="M1158.5 1819.5H1281.5" stroke="#bf935a" stroke-width="1.7"/><path d="M1167.0 1823.5V1834.0M1178.0 1823.5V1834.0M1189.0 1823.5V1834.0M1200.0 1823.5V1834.0M1211.0 1823.5V1834.0M1222.0 1823.5V1834.0M1233.0 1823.5V1834.0M1244.0 1823.5V1834.0M1255.0 1823.5V1834.0M1266.0 1823.5V1834.0M1277.0 1823.5V1834.0" stroke="#bf935a" stroke-width="1.2"/><rect x="1167.7" y="1839.0" width="128.0" height="17.4" rx="8.7" fill="#fcce84"/><path d="M1168.7 1838.2H1291.7" stroke="#bf935a" stroke-width="1.7"/><path d="M1177.2 1842.2V1852.7M1188.2 1842.2V1852.7M1199.2 1842.2V1852.7M1210.2 1842.2V1852.7M1221.2 1842.2V1852.7M1232.2 1842.2V1852.7M1243.2 1842.2V1852.7M1254.2 1842.2V1852.7M1265.2 1842.2V1852.7M1276.2 1842.2V1852.7M1287.2 1842.2V1852.7" stroke="#bf935a" stroke-width="1.2"/><rect x="1155.6" y="1856.7" width="128.0" height="17.4" rx="8.7" fill="#fcce84"/><path d="M1156.6 1855.9H1279.6" stroke="#bf935a" stroke-width="1.7"/><path d="M1165.1 1859.9V1870.4M1176.1 1859.9V1870.4M1187.1 1859.9V1870.4M1198.1 1859.9V1870.4M1209.1 1859.9V1870.4M1220.1 1859.9V1870.4M1231.1 1859.9V1870.4M1242.1 1859.9V1870.4M1253.1 1859.9V1870.4M1264.1 1859.9V1870.4M1275.1 1859.9V1870.4" stroke="#bf935a" stroke-width="1.2"/><rect x="1165.0" y="1874.4" width="128.0" height="17.4" rx="8.7" fill="#fcce84"/><path d="M1166.0 1873.6H1289.0" stroke="#bf935a" stroke-width="1.7"/><path d="M1174.5 1877.6V1888.1M1185.5 1877.6V1888.1M1196.5 1877.6V1888.1M1207.5 1877.6V1888.1M1218.5 1877.6V1888.1M1229.5 1877.6V1888.1M1240.5 1877.6V1888.1M1251.5 1877.6V1888.1M1262.5 1877.6V1888.1M1273.5 1877.6V1888.1M1284.5 1877.6V1888.1" stroke="#bf935a" stroke-width="1.2"/><g clip-path="url(#ckR)"><rect x="1155" y="1800" width="64" height="87" filter="url(#spk)" opacity=".5" mask="url(#mR)"/><rect x="1258" y="1838" width="40" height="49" filter="url(#spk)" opacity=".4"/></g>
</g>
<!-- ============ jumping person ============ -->
<g id="jump">
 <!-- arms -->
 <path d="M1349 1590 L1358 1588 L1380 1664 L1370 1668Z" fill="#9dabcf" stroke="#fff" stroke-width="2.500" stroke-linejoin="round"/>
 <path d="M1414 1592 L1406 1600 L1392 1668 L1402 1668 L1414 1640Z" fill="#9dabcf" stroke="#fff" stroke-width="2"/>
 <path d="M1348 1572 L1356 1569 L1359 1578 L1364 1580 L1359 1588 L1350 1590Z" fill="#fcd9b8" stroke="#b4a08e" stroke-width=".8"/>
 <path d="M1408 1586 L1414 1580 V1596Z" fill="#fcd9b8" stroke="#b4a08e" stroke-width=".8"/>
 <!-- head -->
 <circle cx="1388" cy="1626" r="24" fill="#fdf1e2" stroke="#b4a08e" stroke-width=".8"/>
 <path d="M1370 1626 Q1370 1612 1388 1610 Q1400 1612 1404 1624 L1382 1628 L1380 1650 Q1370 1644 1370 1626Z" fill="#9b9099"/>
 <path d="M1384 1628 L1402 1624 L1394 1648 L1384 1646Z" fill="#fcd5b0"/>
 <!-- body -->
 <path d="M1372 1662 L1390 1658 L1402 1664 L1400 1716 L1372 1720 Q1372 1690 1372 1662Z" fill="#a3abc9"/>
 <path d="M1364 1668 L1372 1662 L1372 1720 L1366 1720Z" fill="#fff8ee"/>
 <!-- legs -->
 <path d="M1368 1718 L1400 1715 L1408 1780 L1398 1848 L1388 1846 L1392 1782 L1385 1756 L1380 1784 L1318 1806 L1313 1796 L1364 1771Z" fill="#a98c6a"/>
 <path d="M1363 1720 L1368 1718 L1364 1771 L1313 1796 L1311 1792 L1360 1768Z" fill="#fff8ee"/>
 <path d="M1300 1796 L1312 1794 L1318 1808 L1310 1818Z" fill="#b0875c"/>
 <path d="M1386 1846 L1400 1848 L1408 1856 L1384 1858Z" fill="#fbe1c0"/>
</g>

</svg>
<!-- bottom orange overlay -->
<div class="abs" id="ovl" style="left:0;top:1380px;width:1414px;height:507px;background:linear-gradient(180deg,rgba(248,160,60,0) 0px,rgba(248,160,60,0) 250px,rgba(248,160,60,.05) 320px,rgba(248,160,60,.15) 370px,rgba(248,160,60,.33) 420px,rgba(248,160,60,.57) 470px,rgba(248,160,60,.74) 490px,rgba(248,160,60,.88) 507px);"></div>

<div class="abs" style="left:0;top:0;width:1.2px;height:1887px;background:rgba(255,255,255,.55)"></div>
<!-- header -->
<div class="abs pill-l"></div>
<div class="abs pill-r"></div>
<svg class="abs" style="left:86px;top:64px" width="80" height="112" viewBox="86 64 80 112">
 <defs><clipPath id="shc"><path d="M93.400 67.800H160.700V128Q160.700 150 146 158Q131 165.500 127.300 170.500Q123.500 165.500 108 158Q93.400 150 93.400 128Z"/></clipPath></defs>
 <path d="M91 67.500H161.200V128Q161.200 151.500 147 159.500Q131.500 167 127.300 173Q123 167 107.500 159.500Q91 151.500 91 128Z" fill="#fff" stroke="#6d6d6d" stroke-width="1"/>
 <g clip-path="url(#shc)">
  <rect x="93" y="67" width="70" height="16" fill="#1e9a48"/>
  <rect x="93" y="83" width="17" height="90" fill="#d9261c"/>
  <rect x="110" y="83" width="34.700" height="90" fill="#1e9a48"/>
  <rect x="144.700" y="83" width="18" height="90" fill="#fff"/>
 </g>
 <text x="127.100" y="80.200" text-anchor="middle" textLength="63.500" lengthAdjust="spacingAndGlyphs" font-family="'Liberation Sans',sans-serif" font-weight="700" font-size="12.600" fill="#fff">PESAWARAN</text>
 <g fill="#f4e61c">
  <path d="M127.300 84.500Q140 85 149 93.500Q145 92 142.500 94Q139 91.500 135.500 94Q131.500 91.500 127.300 94Q123 91.500 119 94Q115.500 91.500 112 94Q109.500 92 106.500 93.500Q114.500 85 127.300 84.500Z"/>
  <rect x="126.500" y="92" width="1.600" height="8"/>
  <path d="M127.300 96.500L129.500 103L133 100.500L133.500 106L138.500 104L138 109.500Q141.500 105 144.700 108.500Q146 114 141 116.500Q134 118 127.300 114.500Q120.500 118 113.500 116.500Q108.500 114 110 108.500Q113 105 116.500 109.500L116 104L121 106L121.500 100.500L125 103Z"/>
  <path d="M104.500 132.500Q107 131 108 133.500Q110 140 118 142H137Q145 140 147 133.500Q148 131 150.500 132.500Q152 134.500 150 138Q147 148 134 151.500L130 154H124.500L120.500 151.500Q108 148 105 138Q103 134.500 104.500 132.500Z"/>
 </g>
 <path d="M105.500 128.700Q117 126.500 127.500 116.300Q137 126 148.500 128.800Q127 130.500 105.500 128.700Z" fill="#1b6b3a"/>
 <rect x="114.200" y="141.600" width="26" height="5.800" rx="1" fill="#fff" stroke="#8a8a60" stroke-width=".5"/>
 <text x="127.200" y="146.300" text-anchor="middle" font-family="'Liberation Sans',sans-serif" font-weight="700" font-size="3.600" fill="#555" textLength="21" lengthAdjust="spacingAndGlyphs">ANDAN JEJAMA</text>
 <path d="M113.500 156.500Q116 154 118.500 156.500Q121 154 123.500 156.500Q126 154 128.500 156.500Q131 154 133.500 156.500Q136 154 138.500 156.500Q140 155 141.500 156.500V160.500H113.500Z" fill="#2b4c9b"/>
</svg>

<svg class="abs" style="left:890px;top:67px" width="68" height="68" viewBox="890 67 68 68">
 <g fill="none" stroke="#0c0c0c" stroke-width="2.300">
  <circle cx="924" cy="101.400" r="28.800"/>
  <ellipse cx="924" cy="101.400" rx="20.500" ry="28.800"/>
  <ellipse cx="924" cy="101.400" rx="8.900" ry="28.800"/>
  <line x1="924" y1="72.600" x2="924" y2="130.200"/>
  <line x1="895.200" y1="101.400" x2="952.800" y2="101.400"/>
  <path d="M902.700 82Q924 97 945.300 82M902.700 120.800Q924 105.800 945.300 120.800"/>
 </g>
</svg>
<div class="txt" id="site" style="left:975.94px;top:81.41px;font-size:38.5px;transform:scaleX(1.1654);">karanganyardesa.id</div>

<!-- title -->
<h1 style="margin:0;font-size:70px;font-weight:700">
<span class="txt title" style="left:111.03px;top:241.55px;font-size:70px;transform:scaleX(1.0729);">Jumlah</span> 
<span class="txt title" style="left:387.75px;top:241.55px;font-size:70px;transform:scaleX(1.0747);">Aparatur</span> 
<span class="txt title" style="left:714.11px;top:241.55px;font-size:70px;transform:scaleX(1.0589);">Pemerintah</span> 
<span class="txt title" style="left:1128.44px;top:241.55px;font-size:70px;transform:scaleX(1.0319);">Desa</span> 
<span class="txt title" style="left:87.53px;top:333.94px;font-size:70px;transform:scaleX(1.0741);">menurut</span> 
<span class="txt title" style="left:403.59px;top:333.94px;font-size:70px;transform:scaleX(1.0212);">Pendidikan</span> 
<span class="txt title" style="left:802.63px;top:333.94px;font-size:70px;transform:scaleX(1.1241);">di</span> 
<span class="txt title" style="left:882.62px;top:333.94px;font-size:70px;transform:scaleX(1.0166);">Desa</span> 
<span class="txt title" style="left:1070.47px;top:333.94px;font-size:70px;transform:scaleX(1.0664);">Karang</span> 
<span class="txt title" style="left:390.99px;top:426.94px;font-size:70px;transform:scaleX(1.0528);">Anyar</span> 
<span class="txt title" style="left:628.62px;top:426.94px;font-size:70px;transform:scaleX(1.0789);">Tahun</span> 
<span class="txt title" style="left:863.34px;top:426.94px;font-size:70px;transform:scaleX(1.0289);">2025</span>
</h1>

<!-- chart -->
<svg id="chart" class="abs" style="left:0;top:560px" width="1414" height="780" viewBox="0 560 1414 780" font-family="'Liberation Sans',sans-serif" font-size="37" fill="#0a0a0a">
 <circle cx="603" cy="614.500" r="19.500" fill="#ff7404"/>
 <circle cx="900" cy="614.500" r="19.500" fill="#ffc414"/>
 <text x="637.700" y="623" textLength="173.700" lengthAdjust="spacingAndGlyphs">Laki-Laki</text>
 <text x="936.100" y="623" textLength="235.300" lengthAdjust="spacingAndGlyphs">Perempuan</text>
 <g stroke="#c9c9c9" stroke-width="1.600">
  <line x1="515" y1="686" x2="515" y2="1248"/>
  <line x1="638" y1="686" x2="638" y2="1248"/>
  <line x1="761.300" y1="686" x2="761.300" y2="1248"/>
  <line x1="884.500" y1="686" x2="884.500" y2="1248"/>
  <line x1="1007.700" y1="686" x2="1007.700" y2="1248"/>
  <line x1="1131" y1="686" x2="1131" y2="1248"/>
  <line x1="1254.200" y1="686" x2="1254.200" y2="1248"/>
 </g>
 <g fill="#ff7404">
  <path d="M514.500 686H819a4 4 0 0 1 4 4v44a4 4 0 0 1-4 4H514.500z"/>
  <path d="M514.500 837.700H633.500a4 4 0 0 1 4 4v44a4 4 0 0 1-4 4H514.500z"/>
  <path d="M514.500 989H1250.300a4 4 0 0 1 4 4v44a4 4 0 0 1-4 4H514.500z"/>
  <path d="M514.500 1141.200H572a4 4 0 0 1 4 4v44a4 4 0 0 1-4 4H514.500z"/>
 </g>
 <g fill="#ffc414">
  <path d="M514.500 1044.800H633.500a4 4 0 0 1 4 4v44a4 4 0 0 1-4 4H514.500z"/>
  <path d="M514.500 1196.500H572a4 4 0 0 1 4 4v43.500a4 4 0 0 1-4 4H514.500z"/>
 </g>
 <g font-size="37.300" lengthAdjust="spacingAndGlyphs">
  <text x="832.800" y="725.600" textLength="24.900" lengthAdjust="spacingAndGlyphs">5</text>
  <text x="645.500" y="877.300" textLength="24.900" lengthAdjust="spacingAndGlyphs">2</text>
  <text x="1265.500" y="1029.500" textLength="37" lengthAdjust="spacingAndGlyphs">12</text>
  <text x="645.500" y="1084.500" textLength="24.900" lengthAdjust="spacingAndGlyphs">2</text>
  <text x="584.500" y="1181">1</text>
  <text x="584.500" y="1236.500">1</text>
 </g>
 <g font-size="34.500">
  <text x="519.500" y="774" textLength="23" lengthAdjust="spacingAndGlyphs">0</text>
  <text x="519.500" y="926" textLength="23" lengthAdjust="spacingAndGlyphs">0</text>
 </g>
 <text x="726" y="1222" font-size="28.500" fill="#ffffff" textLength="125" lengthAdjust="spacingAndGlyphs">34 orang</text>
 <g text-anchor="end">
  <text x="485" y="752.500" textLength="260.800" lengthAdjust="spacingAndGlyphs">SD/Sederajat</text>
  <text x="485" y="904.500" textLength="289.900" lengthAdjust="spacingAndGlyphs">SMP/Sederajat</text>
  <text x="485" y="1056.500" textLength="293" lengthAdjust="spacingAndGlyphs">SMA/Sederajat</text>
  <text x="487.200" y="1208.500" textLength="120.500" lengthAdjust="spacingAndGlyphs">DIV/S1</text>
 </g>
 <g text-anchor="middle" font-size="39.400">
  <text x="514" y="1296.300" textLength="25" lengthAdjust="spacingAndGlyphs">0</text>
  <text x="637.800" y="1296.300" textLength="25" lengthAdjust="spacingAndGlyphs">2</text>
  <text x="761.500" y="1296.300" textLength="25" lengthAdjust="spacingAndGlyphs">4</text>
  <text x="884.500" y="1296.300" textLength="25" lengthAdjust="spacingAndGlyphs">6</text>
  <text x="1007.500" y="1296.300" textLength="25" lengthAdjust="spacingAndGlyphs">8</text>
  <text x="1130.800" y="1296.300" textLength="37.400" lengthAdjust="spacingAndGlyphs">10</text>
  <text x="1255" y="1296.300" textLength="37.400" lengthAdjust="spacingAndGlyphs">12</text>
 </g>
</svg>

<!-- source pill -->
<div class="abs" style="left:-60px;top:1577px;width:858px;height:84px;border-radius:42px;background:#fff;"></div>
<div id="src" style="font-size:38px;color:#0a0a0a;">
<span class="txt" style="left:19.01px;top:1600.33px;transform:scaleX(1.1442);">Sumber:</span> 
<span class="txt" style="left:189.05px;top:1600.33px;transform:scaleX(1.1494);">Data</span> 
<span class="txt" style="left:293.07px;top:1600.33px;transform:scaleX(1.0779);">Desa</span> 
<span class="txt" style="left:400.12px;top:1600.33px;transform:scaleX(1.1607);">Karang</span> 
<span class="txt" style="left:553.50px;top:1600.33px;transform:scaleX(1.1481);">Anyar,</span> 
<span class="txt" style="left:681.98px;top:1600.33px;transform:scaleX(1.1111);">2025</span>
</div>

<!-- footer -->
<div class="abs" style="left:141px;top:1791px;width:1069px;height:2px;background:#fff;opacity:.95"></div>
<div id="foot" style="font-size:33px;font-weight:700;color:#fff;text-shadow:0 3px 5px rgba(80,45,10,.55);-webkit-text-stroke:.4px #fff;">
<span class="txt" style="left:129.96px;top:1811.07px;transform:scaleX(1.0702);">Publikasi</span> 
<span class="txt" style="left:291.41px;top:1811.07px;transform:scaleX(1.0455);">Desa</span> 
<span class="txt" style="left:382.53px;top:1811.07px;transform:scaleX(1.1373);">Karang</span> 
<span class="txt" style="left:517.75px;top:1811.07px;transform:scaleX(1.0500);">Anyar</span> 
<span class="txt" style="left:624.70px;top:1811.07px;transform:scaleX(1.1495);">Dalam</span> 
<span class="txt" style="left:746.06px;top:1811.07px;transform:scaleX(1.0721);">Infografis</span> 
<span class="txt" style="left:914.40px;top:1811.07px;transform:scaleX(1.0972);">2025</span>
</div>
<div class="txt" id="pno" style="left:1230.65px;top:1797.98px;font-size:52px;color:#fff;transform:scaleX(1.2574);">4</div>

</body>
</html>
